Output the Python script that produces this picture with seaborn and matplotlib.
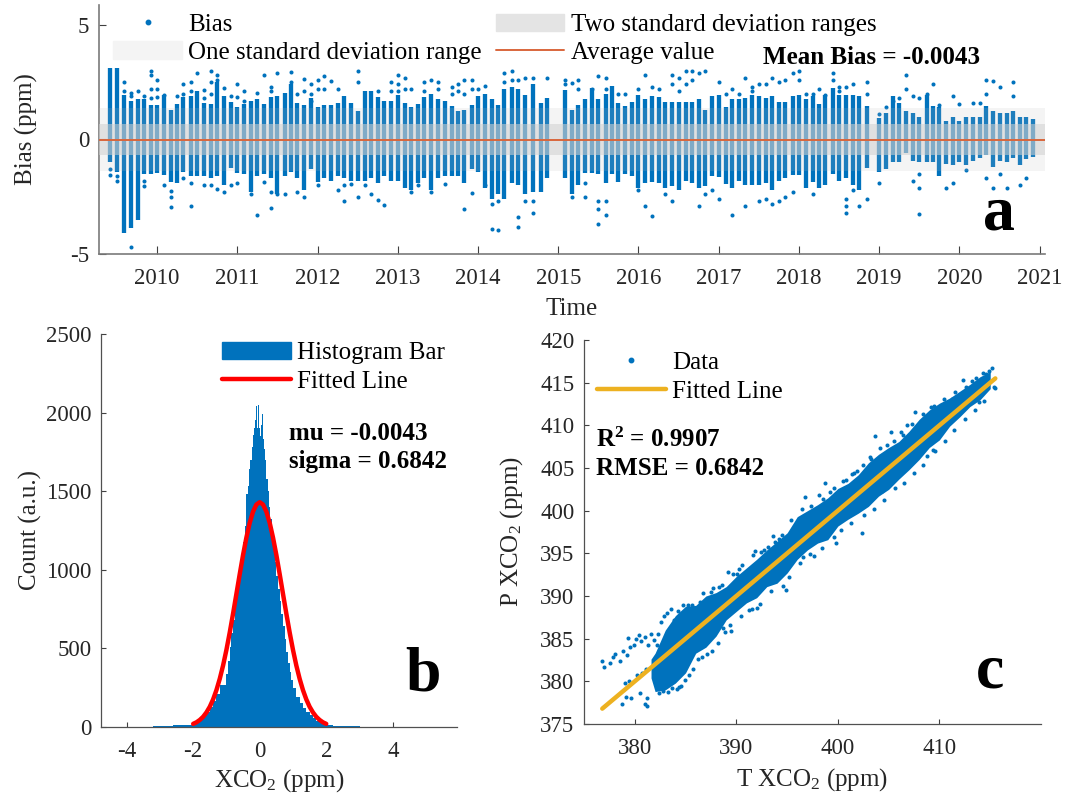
import numpy as np
import pandas as pd
import matplotlib
matplotlib.use("Agg")
import matplotlib.pyplot as plt
from matplotlib.patches import Patch
from matplotlib.lines import Line2D
import seaborn as sns

sns.set_theme(style="ticks")
plt.rcParams.update({
    "font.family": ["Liberation Serif", "DejaVu Sans"],
    "mathtext.fontset": "custom", "mathtext.rm": "Liberation Serif",
    "mathtext.bf": "Liberation Serif:bold", "mathtext.it": "Liberation Serif:italic",
    "axes.unicode_minus": False,
})

# ---------- panel a: monthly columns of bias ----------
col_time = [2009.42,2009.50,2009.59,2009.67,2009.76,2009.84,2009.93,
 2010.00,2010.085,2010.17,2010.25,2010.33,2010.42,2010.50,2010.59,2010.67,2010.75,2010.83,2010.92,
 2011.00,2011.085,2011.17,2011.25,2011.33,2011.42,2011.50,2011.59,2011.67,2011.75,2011.83,2011.92,
 2012.00,2012.085,2012.17,2012.25,2012.33,2012.42,2012.50,2012.59,2012.67,2012.75,2012.83,2012.92,
 2013.00,2013.085,2013.17,2013.25,2013.33,2013.42,2013.50,2013.59,2013.67,2013.75,2013.83,2013.92,
 2014.00,2014.085,2014.17,2014.25,2014.33,2014.42,2014.50,2014.59,2014.69,2014.78,2014.86,
 2015.085,2015.17,2015.25,2015.33,2015.42,2015.50,2015.59,2015.67,2015.75,2015.83,2015.92,
 2016.00,2016.085,2016.17,2016.25,2016.33,2016.42,2016.50,2016.59,2016.67,2016.75,2016.83,2016.92,
 2017.00,2017.085,2017.17,2017.25,2017.33,2017.42,2017.50,2017.59,2017.67,2017.75,2017.83,2017.92,
 2018.00,2018.085,2018.17,2018.25,2018.33,2018.42,2018.50,2018.59,2018.67,2018.75,2018.85,
 2019.00,2019.085,2019.17,2019.25,2019.33,2019.42,2019.50,2019.59,2019.67,2019.75,2019.83,2019.92,
 2020.00,2020.085,2020.17,2020.25,2020.33,2020.42,2020.50,2020.59,2020.67,2020.75,2020.83,2020.92]
col_top = [3.13,3.13,1.95,1.7,1.75,1.75,1.5,
 1.5,1.95,1.3,1.55,1.85,1.9,2.1,1.6,1.55,2.5,1.9,1.65,
 1.4,1.55,1.7,1.75,1.55,1.85,1.9,2.05,2.4,1.6,1.5,1.8,
 1.4,1.5,1.5,1.6,1.9,1.6,1.25,2.1,2.1,1.85,1.7,1.7,
 1.95,1.6,1.4,1.55,1.85,2.0,1.75,1.7,1.45,1.25,1.3,1.5,
 1.9,2.0,1.75,1.5,2.2,2.3,2.2,1.95,2.4,1.6,1.8,
 2.15,1.3,1.5,1.75,2.25,1.75,2.0,2.35,1.6,1.45,1.65,
 1.95,1.75,1.9,1.85,1.65,1.65,1.65,1.65,1.65,1.75,1.3,1.9,
 1.95,1.4,1.75,1.75,1.8,1.95,1.9,1.8,1.9,1.65,1.65,1.9,
 1.95,1.75,1.9,1.55,1.95,2.25,1.95,1.95,1.95,1.9,1.45,
 0.95,1.15,1.9,1.6,1.25,1.15,1.0,1.95,1.45,1.4,0.8,1.0,
 0.8,1.0,1.0,1.0,1.45,1.25,1.15,1.15,1.25,1.0,1.0,0.9]
col_bottom = [-1.0,-1.4,-4.1,-3.85,-3.5,-1.5,-1.5,
 -1.45,-1.55,-1.85,-1.9,-1.4,-1.6,-1.6,-1.6,-1.7,-1.6,-2.0,-1.25,
 -1.45,-1.5,-2.3,-1.6,-1.5,-1.7,-2.4,-1.6,-1.4,-1.7,-2.2,-1.3,
 -1.85,-1.7,-1.8,-1.6,-1.7,-1.8,-1.8,-1.8,-1.7,-1.9,-1.6,-1.8,
 -1.8,-2.1,-2.2,-1.9,-1.7,-2.2,-1.7,-1.6,-1.6,-1.6,-1.9,-1.3,
 -1.4,-2.1,-2.6,-2.4,-2.6,-1.9,-2.0,-2.4,-2.3,-2.3,-1.7,
 -1.7,-2.4,-2.0,-1.45,-1.45,-1.5,-1.9,-1.5,-1.85,-1.5,-1.6,
 -2.1,-1.9,-1.85,-1.9,-2.1,-2.05,-2.2,-1.8,-1.9,-2.1,-2.05,-1.6,
 -1.65,-1.95,-2.1,-1.8,-2.0,-2.0,-2.0,-1.9,-2.2,-1.8,-1.7,-1.55,
 -1.55,-2.1,-1.85,-2.1,-2.0,-1.5,-1.8,-1.7,-2.0,-2.2,-1.25,
 -1.4,-1.3,-1.0,-1.0,-0.6,-0.95,-1.0,-1.0,-1.0,-1.6,-1.05,-1.1,
 -1.0,-1.1,-0.95,-0.8,-0.7,-1.2,-0.95,-1.0,-0.8,-1.1,-0.85,-0.75]

stray_by_month = {
 2009.42:[-1.3,-1.55],2009.50:[-1.6,-1.8],2009.59:[2.1,2.5],2009.67:[2.05,1.9,-4.7],2009.76:[2.1],2009.84:[1.9,-1.8,-2.05],
 2009.93:[3.0,2.8,2.2,1.8],2010.0:[2.6,2.2,1.85],2010.085:[1.95,-2.0],2010.17:[-2.25,-2.5,-2.95],2010.25:[1.9],2010.33:[2.0,2.4,-1.7],
 2010.42:[2.1,2.5,-1.9,-2.9],2010.50:[2.9],2010.59:[1.8,2.15,-2.0],2010.67:[2.0,2.5,3.0,-2.0],2010.75:[2.6,2.8,-2.15],2010.83:[2.25,-2.3],2010.92:[1.9,-2.0],
 2011.0:[1.85,2.4,-1.9],2011.085:[2.1,1.7],2011.17:[-2.4],2011.25:[2.05,-3.3],2011.33:[2.8,-1.85],2011.42:[2.3,2.1,-2.3,-3.0],2011.5:[2.9,-2.4],2011.59:[-2.4],
 2011.67:[2.95,2.5],2011.75:[2.0,-2.3],2011.83:[2.65,2.1,-2.5],2011.92:[2.4,2.0,1.7],
 2012.0:[2.6,2.2,-2.0],2012.085:[2.75,2.2],2012.17:[2.55],2012.25:[2.2,-2.2],2012.33:[-2.0,-2.7],2012.42:[-1.95],2012.5:[3.0,2.5,-2.5],2012.59:[-2.0],2012.67:[-2.4],2012.75:[-2.65,2.1],2012.83:[-2.85],2012.92:[2.5,2.1],
 2013.0:[2.8,2.4,2.1],2013.085:[2.7,2.2],2013.17:[2.2,-2.3],2013.25:[-2.0],2013.33:[2.5,2.1],2013.42:[2.6,-2.3],2013.5:[2.5,2.2],2013.59:[-1.95],2013.67:[2.3,2.0],2013.75:[2.4,2.1],2013.83:[2.6,2.0,-3.05],2013.92:[2.6,2.2,-2.35],
 2014.0:[2.2],2014.085:[2.35,-2.0],2014.17:[-3.9,-2.8],2014.25:[-3.95,-2.7],2014.33:[2.9,2.5],2014.42:[3.0,2.6],2014.5:[2.6,-3.4,-3.8],2014.59:[2.7,-2.7],2014.69:[2.7,-2.7,-3.2],2014.86:[2.7],
 2015.085:[2.6,2.4],2015.17:[2.45,-2.5],2015.25:[2.6,2.2],2015.33:[-2.5,-1.9],2015.42:[2.2],2015.5:[2.75,-2.7,-3.05,-3.7],2015.59:[2.7,2.2,-2.7,-3.3],2015.75:[2.0],2015.83:[2.0],
 2016.0:[2.2,-2.2],2016.085:[2.8,-2.9],2016.17:[-3.35,2.3],2016.25:[2.2],2016.33:[-2.4],2016.42:[2.8,2.4,-2.7],2016.5:[2.7,2.1],2016.59:[3.0,2.4],2016.67:[3.0,2.6],2016.75:[2.9,-2.9],2016.83:[3.0,-2.4],2016.92:[-2.2],
 2017.0:[2.5,-2.6],2017.085:[2.0],2017.17:[2.2,-3.3],2017.25:[2.0],2017.33:[2.7,-2.9],2017.42:[2.3,2.1],2017.5:[2.4,-2.7],2017.59:[2.4,-2.6],2017.67:[2.7,-2.8],2017.75:[2.5,-2.7],2017.83:[2.6,-2.5],2017.92:[2.9,-2.3],
 2018.0:[3.0,2.6],2018.085:[2.0],2018.17:[2.0,-2.4],2018.25:[2.2],2018.33:[1.95],2018.42:[2.9,2.6],2018.5:[2.3,2.1],2018.59:[-2.6,-2.9,-3.2,2.3],2018.67:[-2.2,2.4],2018.75:[-2.9],
 2018.85:[2.5,2.0,-2.6],2019.0:[1.1,-1.9],2019.085:[1.4],2019.17:[1.7],2019.25:[1.8],2019.33:[2.8,2.2],2019.42:[1.9,-1.8],2019.5:[1.8,-3.25,-2.1,-1.5],2019.59:[2.0],2019.67:[2.4],2019.75:[1.5],2019.83:[-2.1],2019.92:[1.9,-1.9],
 2020.0:[1.55],2020.085:[-1.35],2020.17:[1.6],2020.25:[1.6],2020.33:[2.6,2.0,-1.7],2020.42:[2.55,-2.1],2020.5:[2.3,-1.5],2020.59:[-2.1],2020.67:[2.5,1.9],2020.75:[-2.0],2020.83:[-1.7],
}

# ---------- panel b: histogram of the bias ----------
hist_edges = [-3.6,-3.4,-3.2,-3.0,-2.8,-2.6,-2.4,-2.2,-2.0,-1.9,-1.8,-1.7,-1.6,-1.5,-1.4,-1.3,-1.2,-1.1,-1.0,-0.95,-0.9,-0.85,-0.8,-0.75,-0.7,-0.65,-0.6,-0.55,-0.5,-0.45,-0.4,-0.36,-0.32,-0.28,-0.24,-0.2,-0.17,-0.14,-0.11,-0.08,-0.05,-0.03,-0.01,0.0,0.02,0.04,0.06,0.08,0.1,0.12,0.14,0.17,0.2,0.24,0.28,0.32,0.36,0.4,0.45,0.5,0.55,0.6,0.65,0.7,0.75,0.8,0.85,0.9,0.95,1.0,1.1,1.2,1.3,1.4,1.5,1.6,1.7,1.8,1.9,2.0,2.2,2.4,2.6,2.8,3.0,3.2,3.4,3.6]
hist_count = [1,2,4,6,8,14,12,14,25,35,50,70,95,125,165,210,270,
 270 + 0,340,420,510,600,680,760,840,920,1000,1090,1180,1280,1480,1530,1640,1700,1780,1860,1900,1950,2040,1900,2050,1940,1900,1970,1850,1920,1780,1990,1830,1880,1770,1700,
 1580,1500,1400,1320,1230,1150,1050,960,880,800,720,640,560,480,410,350,300,250,190,150,120,95,75,55,40,28,18,12,9,8,6,4,2,1,1]

fit_x = [-2.0,-1.9,-1.8,-1.7,-1.6,-1.5,-1.4,-1.3,-1.2,-1.1,-1.0,-0.9,-0.8,-0.7,-0.6,-0.5,-0.4,-0.3,-0.2,-0.1,0.0,0.1,0.2,0.3,0.4,0.5,0.6,0.7,0.8,0.9,1.0,1.1,1.2,1.3,1.4,1.5,1.6,1.7,1.8,1.9,2.0]
fit_y = [20,30,45,65,93,129,176,235,307,392,491,602,722,847,973,1095,1205,1299,1370,1415,1430,1415,1370,1299,1205,1095,973,847,722,602,491,392,307,235,176,129,93,65,45,30,20]

# ---------- panel c: scatter envelope and stray points ----------
band_x = [381.6,382,383,384,385,386,387,388,389,390,391,392,393,394,395,396,397,398,399,400,401,402,403,404,405,406,407,408,409,410,411,412,413,414,415]
band_hi = [382.6,383.3,386,387.7,388.8,388.9,390,390.4,391.1,392.3,393.3,394.3,395.4,396.4,397.4,399.3,400,400.7,401.5,402.6,403.2,404.2,405.6,406.6,407.4,408.1,409.3,410.7,411.8,412.6,413.2,414,414.8,415.7,416.3]
band_lo = [380.4,378.8,379,379.8,381,383.3,384,385.3,387.2,388.2,389.2,389.8,391.1,391.5,392.7,394.3,395.4,396.2,396.6,398.2,399,399.7,400.5,401.7,402.5,403.7,404.8,406,407.4,408.3,409.9,411,412.2,413,414.3]

scat_points = [(376.8,382.4),(377,381.7),(377.6,382.1),(377.9,382.8),(378.1,383.2),(378.5,382.4),(378.8,383.5),(379.2,383.1),(379.5,384),(379.3,385.1),(379.9,384.2),(380.1,385),(380.4,385.4),(380.6,384.7),(381,385.2),(381.3,384.3),(381.6,385.5),(381.9,384.8),(382.3,385.6),(382.2,384.2),(382.6,387),(382.9,387.6),(383.2,388),
 (378.7,377.4),(379.1,378.2),(379.6,378),(380.5,378.6),(381,377.3),(381.2,377.1),(381.2,378),(379,379.8),(379.4,380),(380.2,380.8),(380.7,381),(381.1,381.5),
 (387.3,389.4),(388.6,391.3),(389.2,392.8),(389.5,385.9),(391.8,395.3),(392,388.6),(394.2,396.7),(394.9,390.7),(396.8,401.6),(395.9,396.9),(393.1,395.7),(388.9,385.8),(398.1,401.8),(398.7,403.2),(399.8,396.2),(402.4,397.4),(403.7,408.8),(404.3,402.3),(405.2,409.2),(407.6,411.6),(408.8,406.4),(409.2,412.2),(412.3,415.3),(415.4,414.5),(415.2,416.7),(411.2,413.1),
 (383.6,388.5),(384.7,388.9),(385.6,389.0),(386.7,390.3),(387.7,390.9),(390.3,393.2),(391.2,388.4),(392.7,395.4),(396.3,393.9),(397.6,394.7),(400.5,403.5),(401.6,404.4),(403.3,406.1),(404.8,407.7),(406.8,410),(409.6,407),(413.2,415.2),(414.6,416),(413.9,412.7),(406.2,409.2),(399.2,402.2),(393.6,397),(390.1,392.6),(386.1,384.2),(384.4,379.3),(401.9,404.6),
 (382.4,378.6),(382.8,378.9),(383.3,378.7),(383.7,379.2),(384.2,379.1),(384.6,379.5),(384.9,380.2),(385.3,380.8),(385.7,381.5),(386.2,382.6),(386.6,382.9),(387.1,383.2),(387.6,383.6),(388.2,384.5),(388.7,386.2),(389.4,386.6),(390.5,387.6),(391.5,388.5),(392.3,389.1),(393.4,390.6),(394.6,391.2),(395.2,392.2),(396.6,394.6),(397.3,394.9),(398.4,395.6),(399.6,396.9),(400.3,397.7),(401.3,398.5),(402.6,399.5),(403.6,400.2),(404.5,401.2),(405.6,402.6),(406.5,403.3),(407.5,404.4),(408.4,405.4),(409.4,407.1),(410.5,408.2),(411.4,409.5),(412.5,410.7),(413.5,411.8),(414.4,412.8),(415.5,414.4),
 (383.9,387.2),(384.3,388.2),(385.2,389),(386.4,389.3),(387.5,390.5),(388.3,391.1),(389.7,392.6),(390.6,393.6),(391.6,394.8),(392.4,395.1),(393.8,396.3),(394.5,397.2),(395.4,398.9),(396.5,400.2),(397.4,400.6),(398.5,401.4),(399.6,402.6),(400.8,403.6),(401.4,404.3),(402.5,405.3),(403.2,406.3),(404.1,407.3),(405.5,408.2),(406.4,408.9),(407.3,410.2),(408.4,411.3),(409.5,412.3),(410.4,413.1),(411.5,413.9),(412.6,414.5),(413.6,415.5),(414.3,416.1),(414.9,416.4)]
line_ends_x = [376.8,415.5]
line_ends_y = [376.8,415.5]

BLUE = "#0072BD"
W, H = 1065, 800
def axes_px(l, r, t, b):
    return [l/W, 1-b/H, (r-l)/W, (b-t)/H]

fig = plt.figure(figsize=(W/100, H/100), dpi=100)
ax_a = fig.add_axes(axes_px(99, 1045, 5, 254))
ax_b = fig.add_axes(axes_px(101, 457, 334, 727))
ax_c = fig.add_axes(axes_px(584, 1041, 340, 724))
FS = 16.5     # tick labels
FL = 18.0     # axis labels and legends
FB = 18.0     # bold notes
TXT = "#262626"

stray = pd.DataFrame([(t, v) for t, vals in stray_by_month.items() for v in vals], columns=["time", "bias"])
scat = pd.DataFrame(scat_points, columns=["t", "p"])

# panel a
ax_a.vlines(col_time, col_bottom, col_top, color=BLUE, lw=3.1, zorder=2)
sns.scatterplot(data=stray, x="time", y="bias", ax=ax_a, color=BLUE, s=8.5, linewidth=0, zorder=2)
ax_a.axhspan(-1.3726, 1.3640, color=(0.74,0.74,0.74), alpha=0.16, lw=0, zorder=3)
ax_a.axhspan(-0.6885, 0.6799, color=(0.82,0.82,0.82), alpha=0.55, lw=0, zorder=3)
ax_a.axhline(-0.0043, color="#D9663C", lw=1.4, zorder=4)
ax_a.set_xlim(2009.277, 2021.066)
ax_a.set_ylim(-5, 5.87)
ax_a.set_xticks(list(range(2010, 2022)))
ax_a.set_xticklabels([str(y) for y in range(2010, 2022)])
ax_a.set_yticks([-5, 0, 5])
ax_a.set_xlabel("Time", fontsize=FL, color=TXT, labelpad=6.5)
ax_a.set_ylabel("Bias (ppm)", fontsize=FL, color=TXT, labelpad=23)
h_a = [Line2D([], [], ls="", marker="o", ms=3.2, color=BLUE, label="Bias"),
       Patch(color="#f4f4f4", label="One standard deviation range"),
       Patch(color="#e4e4e4", label="Two standard deviation ranges"),
       Line2D([], [], color="#D9663C", lw=1.4, label="Average value")]
ax_a.legend(handles=h_a, ncols=2, frameon=False, fontsize=FL, handlelength=2.75, handletextpad=0.25,
            columnspacing=0.55, labelspacing=0.2, loc="upper left", labelcolor="black",
            bbox_to_anchor=(0.015, 0.965), borderaxespad=0, borderpad=0)
ax_a.text(0.702, 0.791, "Mean Bias = -0.0043", transform=ax_a.transAxes, fontsize=FB, fontweight="bold", color="black", va="center")
ax_a.text(0.951, 0.157, "a", transform=ax_a.transAxes, fontsize=46, fontweight="bold", color="black", ha="center", va="center")

# panel b
sns.histplot(x=hist_edges[:-1], weights=hist_count, bins=hist_edges, ax=ax_b, color=BLUE,
             element="step", stat="count", alpha=1, linewidth=0, zorder=2)
sns.lineplot(x=fit_x, y=fit_y, ax=ax_b, color="#FF0000", lw=3.2, zorder=3)
ax_b.set_xlim(-4.77, 5.93)
ax_b.set_ylim(0, 2500)
ax_b.set_xticks([-4, -2, 0, 2, 4])
ax_b.set_yticks([0, 500, 1000, 1500, 2000, 2500])
ax_b.set_xlabel("XCO$_2$ (ppm)", fontsize=FL, color=TXT, labelpad=4)
ax_b.set_ylabel("Count (a.u.)", fontsize=FL, color=TXT, labelpad=3)
h_b = [Patch(color=BLUE, label="Histogram Bar"), Line2D([], [], color="#FF0000", lw=3.2, label="Fitted Line")]
ax_b.legend(handles=h_b, frameon=False, fontsize=FL, handlelength=2.75, handletextpad=0.25, labelspacing=0.24,
            labelcolor="black", loc="upper left", bbox_to_anchor=(0.34, 0.98), borderaxespad=0, borderpad=0)
ax_b.text(0.528, 0.712, "mu = -0.0043\nsigma = 0.6842", transform=ax_b.transAxes, fontsize=FB, fontweight="bold", color="black", va="center", linespacing=1.29)
ax_b.text(0.955, 0.13, "b", transform=ax_b.transAxes, fontsize=46, fontweight="bold", color="black", ha="right", va="center")

# panel c
ax_c.fill_between(band_x, band_lo, band_hi, color=BLUE, lw=0, zorder=2)
sns.scatterplot(data=scat, x="t", y="p", ax=ax_c, color=BLUE, s=8.5, linewidth=0, zorder=2)
sns.lineplot(x=line_ends_x, y=line_ends_y, ax=ax_c, color="#EDB120", lw=3.2, zorder=3)
ax_c.set_xlim(375, 420)
ax_c.set_ylim(375, 420)
ax_c.set_xticks([380, 390, 400, 410])
ax_c.set_yticks(list(range(375, 421, 5)))
ax_c.set_xlabel("T XCO$_2$ (ppm)", fontsize=FL, color=TXT, labelpad=5)
ax_c.set_ylabel("P XCO$_2$ (ppm)", fontsize=FL, color=TXT, labelpad=11)
h_c = [Line2D([], [], ls="", marker="o", ms=3.2, color=BLUE, label="Data"),
       Line2D([], [], color="#EDB120", lw=3.2, label="Fitted Line")]
ax_c.legend(handles=h_c, frameon=False, fontsize=FL, handlelength=2.75, handletextpad=0.25, labelspacing=0.24,
            labelcolor="black", loc="upper left", bbox_to_anchor=(0.028, 0.97), borderaxespad=0, borderpad=0)
ax_c.text(0.026, 0.703, "R$^{\\mathbf{2}}$ = 0.9907\nRMSE = 0.6842", transform=ax_c.transAxes, fontsize=FB, fontweight="bold", color="black", va="center", linespacing=1.29)
ax_c.text(0.888, 0.135, "c", transform=ax_c.transAxes, fontsize=46, fontweight="bold", color="black", ha="center", va="center")

for ax, spine_col, spine_w in ((ax_a, "#7a7a7a", 1.2), (ax_b, "#505050", 0.9), (ax_c, "#505050", 0.9)):
    sns.despine(ax=ax)
    ax.grid(False)
    ax.set_facecolor("white")
    ax.tick_params(axis="x", direction="in", length=6 if ax is ax_a else 3.5, width=0.8, color="#404040", labelcolor=TXT, labelsize=FS, pad=10)
    ax.tick_params(axis="y", direction="in", length=5 if ax is ax_a else 3.5, width=0.8, color="#404040", labelcolor=TXT, labelsize=FS, pad=7)
    for s in ("left", "bottom"):
        ax.spines[s].set_color(spine_col)
        ax.spines[s].set_linewidth(spine_w)

fig.savefig("out.png", dpi=100, facecolor="white")
